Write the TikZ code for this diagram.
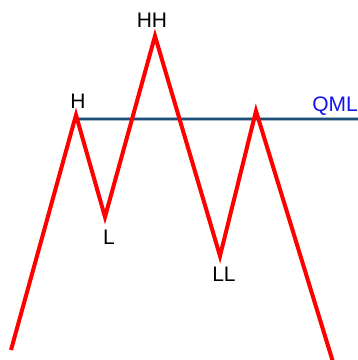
\documentclass[tikz,border=0pt]{standalone}
\usepackage{fontspec}
\setmainfont{Liberation Sans}
\definecolor{qmlblue}{RGB}{31,78,121}
\definecolor{txtblue}{RGB}{20,20,235}
\begin{document}
\begin{tikzpicture}[x=1pt,y=-1pt,
    lbl/.style={font=\fontsize{21}{24}\selectfont,inner sep=0pt}]
    \useasboundingbox (0,0) rectangle (358,360);

    % Swing points
    \coordinate (start) at (11,350);
    \coordinate (h) at (76,115);
    \coordinate (l) at (105,217);
    \coordinate (hh) at (155,36);
    \coordinate (ll) at (220,256);
    \coordinate (r) at (256,111);
    \coordinate (stop) at (333,362);

    % QML line
    \coordinate (qa) at (76,119);
    \coordinate (qb) at (360,119);
    \draw[qmlblue!40,line width=4.5pt] (qa) -- (qb);
    \draw[qmlblue,line width=2.5pt] (qa) -- (qb);

    % Price path
    \draw[red,line width=4pt,line join=miter] (start) -- (h) -- (l) -- (hh) -- (ll) -- (r) -- (stop);

    % Labels
    \node[lbl] (hhl) at (152,20) {HH};
    \node[lbl] (hl) at (78,101) {H};
    \node[lbl] (ll1) at (109,237) {L};
    \node[lbl] (lll) at (224,274) {LL};
    \node[lbl,text=txtblue,anchor=east] (qml) at (358,106) {QML};

\end{tikzpicture}
\end{document}
